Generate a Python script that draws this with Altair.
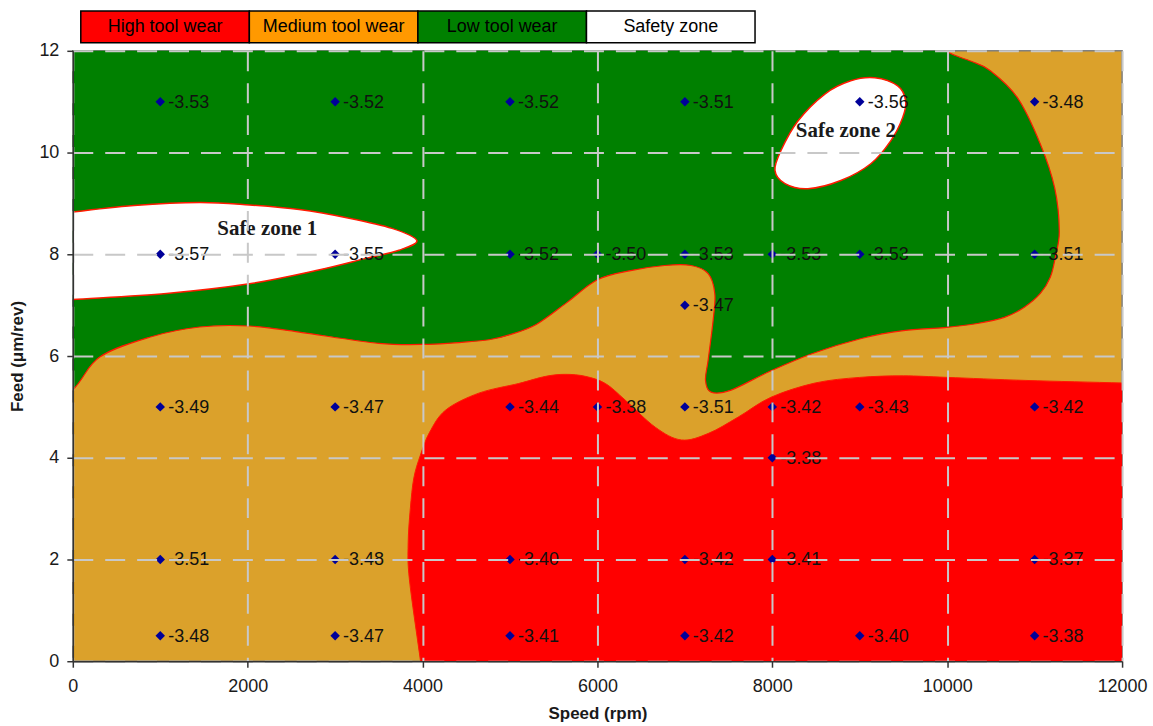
import altair as alt
import pandas as pd

# ---- trial points: speed (rpm), feed (um/rev), measured response ----
speed = [1000, 3000, 5000, 7000, 9000, 11000,
         1000, 3000, 5000, 6000, 7000, 8000, 9000, 11000,
         7000,
         1000, 3000, 5000, 6000, 7000, 8000, 9000, 11000,
         8000,
         1000, 3000, 5000, 7000, 8000, 11000,
         1000, 3000, 5000, 7000, 9000, 11000]
feed = [11] * 6 + [8] * 8 + [7] + [5] * 8 + [4] + [2] * 6 + [0.5] * 6
response = [-3.53, -3.52, -3.52, -3.51, -3.56, -3.48,
            -3.57, -3.55, -3.52, -3.50, -3.53, -3.53, -3.53, -3.51,
            -3.47,
            -3.49, -3.47, -3.44, -3.38, -3.51, -3.42, -3.43, -3.42,
            -3.38,
            -3.51, -3.48, -3.40, -3.42, -3.41, -3.37,
            -3.48, -3.47, -3.41, -3.42, -3.40, -3.38]

# ---- wear zone outlines (speed, feed); vertices beyond the axes are clipped ----
low_wear_zone = [
    (-600, 4.3), (0, 5.33), (308, 5.98), (878, 6.37), (1449, 6.57), (2019, 6.59),
    (2589, 6.47), (3500, 6.25), (4070, 6.23), (4450, 6.27), (4760, 6.32),
    (5000, 6.42), (5300, 6.62), (5650, 7.05), (6000, 7.50), (6380, 7.68),
    (6770, 7.78), (7070, 7.78), (7266, 7.62), (7342, 7.23), (7323, 6.70),
    (7266, 5.92), (7236, 5.52), (7300, 5.29), (7529, 5.33), (7960, 5.69),
    (8460, 6.05), (9030, 6.35), (9500, 6.50), (9970, 6.56), (10346, 6.64),
    (10654, 6.76), (10882, 6.96), (11065, 7.23), (11179, 7.55), (11236, 7.94),
    (11282, 8.45), (11230, 9.30), (11065, 10.17), (10803, 11.08),
    (10494, 11.61), (10266, 11.80), (9981, 12.0), (9500, 12.6), (-600, 12.8),
]
high_wear_zone = [
    (12800, -1.5), (4100, -1.5), (3977, 0.0), (3850, 1.6), (3835, 2.3),
    (3860, 3.0), (3900, 3.6), (3975, 4.05), (4080, 4.50), (4266, 4.94),
    (4643, 5.27), (5099, 5.46), (5407, 5.60), (5635, 5.64), (5863, 5.60),
    (6091, 5.46), (6320, 5.13), (6662, 4.60), (6960, 4.35), (7270, 4.48),
    (7610, 4.80), (7985, 5.19), (8490, 5.47), (9000, 5.58), (9500, 5.61),
    (10000, 5.58), (10900, 5.52), (12000, 5.47), (12800, 5.43),
]
safe_zone_1 = [
    (-500, 8.7), (0, 8.83), (700, 8.96), (1450, 9.02), (2019, 8.97),
    (2589, 8.88), (3160, 8.71), (3650, 8.51), (3935, 8.27), (3730, 8.08),
    (3354, 7.92), (2783, 7.68), (2019, 7.42), (1072, 7.23), (0, 7.11),
    (-500, 7.05),
]
safe_zone_2 = [
    (8030, 9.65), (8099, 10.04), (8293, 10.62), (8601, 11.15), (8897, 11.41),
    (9171, 11.47), (9434, 11.31), (9525, 11.02), (9491, 10.69), (9354, 10.23),
    (9126, 9.78), (8783, 9.45), (8407, 9.29), (8145, 9.39),
]

zone_names = ["Safe zone 1", "Safe zone 2"]
zone_name_x = [2224, 8841]
zone_name_y = [8.49, 10.43]

legend_labels = ["High tool wear", "Medium tool wear", "Low tool wear", "Safety zone"]

RED = "#FF0000"
ORANGE = "#DBA12B"
LEGEND_ORANGE = "#FF9900"
GREEN = "#008000"
WHITE = "#FFFFFF"
EDGE = "#FF1A00"
legend_colors = [RED, LEGEND_ORANGE, GREEN, WHITE]

FONT = "Liberation Sans"

x_axis = alt.Axis(
    values=list(range(0, 12001, 2000)), format="d", title="Speed (rpm)",
    grid=True, gridColor="#C8C8C8", gridDash=[20, 12], gridWidth=2,
    domainColor="#333333", domainWidth=1.5, tickColor="#333333",
    tickSize=6, tickWidth=1.5, labelFont=FONT, labelFontSize=18,
    labelColor="#1A1A1A", labelPadding=10, labelFlush=False,
    titleFont=FONT, titleFontSize=17, titleFontWeight="bold",
    titleColor="#1A1A1A", titlePadding=10, zindex=1,
)
y_axis = alt.Axis(
    values=list(range(0, 13, 2)), format="d", title="Feed (μm/rev)",
    grid=True, gridColor="#C8C8C8", gridDash=[20, 12], gridWidth=2,
    domainColor="#333333", domainWidth=1.5, tickColor="#333333",
    tickSize=6, tickWidth=1.5, labelFont=FONT, labelFontSize=18,
    labelColor="#1A1A1A", labelPadding=8,
    titleFont=FONT, titleFontSize=17, titleFontWeight="bold",
    titleColor="#1A1A1A", titlePadding=12, zindex=1,
)
x_enc = alt.X("x:Q", scale=alt.Scale(domain=[0, 12000], nice=False, zero=False), axis=x_axis)
y_enc = alt.Y("y:Q", scale=alt.Scale(domain=[0, 12], nice=False, zero=False), axis=y_axis)


def zone_layer(vertices, fill, stroke_width):
    df = pd.DataFrame(vertices, columns=["x", "y"])
    df["i"] = range(len(df))
    return alt.Chart(df).mark_line(
        interpolate="cardinal-closed", fill=fill, stroke=EDGE,
        strokeWidth=stroke_width, clip=True,
    ).encode(x=x_enc, y=y_enc, order="i:Q")


points = pd.DataFrame({
    "x": speed, "y": feed,
    "label": [f"{v:.2f}" for v in response],
})
names = pd.DataFrame({"x": zone_name_x, "y": zone_name_y, "name": zone_names})

markers = alt.Chart(points).mark_point(
    shape="diamond", filled=True, size=90, color="#000099", opacity=1
).encode(x=x_enc, y=y_enc)
values = alt.Chart(points).mark_text(
    align="left", baseline="middle", dx=8, dy=1, font=FONT, fontSize=18, color="#111111"
).encode(x=x_enc, y=y_enc, text="label:N")
zone_text = alt.Chart(names).mark_text(
    font="Liberation Serif", fontWeight="bold", fontSize=21, color="#1A1A1A",
    baseline="middle", align="center",
).encode(x=x_enc, y=y_enc, text="name:N")

main = alt.layer(
    zone_layer(low_wear_zone, GREEN, 1.2),
    zone_layer(high_wear_zone, RED, 1.0),
    zone_layer(safe_zone_1, WHITE, 1.5),
    zone_layer(safe_zone_2, WHITE, 1.5),
    markers, values, zone_text,
).properties(
    width=1052, height=612,
    view=alt.ViewBackground(fill=ORANGE, stroke="#808080", strokeWidth=1.5),
)

# ---- boxed colour key above the plot ----
key = pd.DataFrame({
    "label": legend_labels,
    "color": legend_colors,
    "start": [0, 1, 2, 3],
})
key["end"] = key["start"] + 1
key["mid"] = key["start"] + 0.5
key_scale = alt.Scale(domain=[0, 4], range=[8, 684])
key_boxes = alt.Chart(key).mark_rect(stroke="black", strokeWidth=1.5).encode(
    x=alt.X("start:Q", scale=key_scale, axis=None),
    x2="end:Q",
    fill=alt.Fill("color:N", scale=None),
)
key_text = alt.Chart(key).mark_text(font=FONT, fontSize=18, color="black").encode(
    x=alt.X("mid:Q", scale=key_scale, axis=None),
    text="label:N",
)
legend = alt.layer(key_boxes, key_text).properties(
    width=684, height=32,
    view=alt.ViewBackground(stroke="transparent"),
)

chart = alt.vconcat(legend, main, spacing=8, bounds="flush").properties(
    padding={"left": 8, "top": 8, "right": 5, "bottom": 5},
    background="white",
)

chart.save("out.html", embed_options={"renderer": "svg", "actions": False})
